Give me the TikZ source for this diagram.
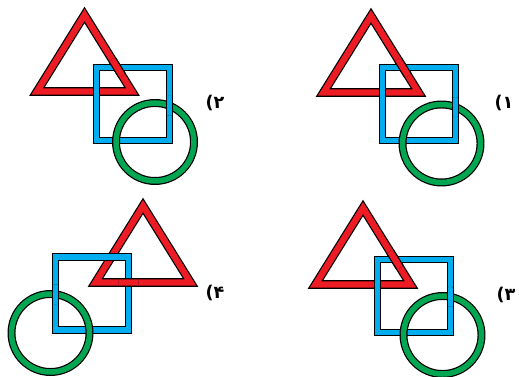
\documentclass[tikz,border=0pt]{standalone}
\usepackage{fontspec}
\newfontfamily\farsi{DejaVu Sans}
\usetikzlibrary{positioning}

\definecolor{trired}{HTML}{ED1C24}
\definecolor{sqblue}{HTML}{00AEEF}
\definecolor{ringgreen}{HTML}{00A651}

\tikzset{
  band/.style={line width=0.7pt, double distance=0.11cm, line join=miter},
  tri/.style={band, double distance=0.125cm, draw=black, double=trired},
  sq/.style={band, draw=black, double=sqblue},
  ring/.style={band, draw=black, double=ringgreen},
  lbl/.style={font=\farsi\bfseries\fontsize{10}{10}\selectfont, inner sep=0pt},
}

\begin{document}
\begin{tikzpicture}[x=0.02cm, y=-0.02cm]
  \useasboundingbox (0,0) rectangle (519,377);

  % panel 2 (top left)
  \draw[tri] (84.5,15) -- (37,91.5) -- (132,91.5) -- cycle;
  \draw[sq] (96.5,67.5) rectangle (169.5,140.5);
  \draw[ring] (155,142) circle [radius=39];
  \begin{scope} \clip (117.1,67.5) circle [radius=10];
    \draw[tri] (84.5,15) -- (37,91.5) -- (132,91.5) -- cycle; \end{scope}
  \begin{scope} \clip (169.5,105.8) circle [radius=10];
    \draw[sq] (96.5,67.5) rectangle (169.5,140.5); \end{scope}
  \node[lbl] (l2) at (215,103) {(۲};

  % panel 1 (top right)
  \draw[tri] (371,16) -- (323.5,92.5) -- (418.5,92.5) -- cycle;
  \draw[sq] (382.5,67.5) rectangle (455.5,140.5);
  \draw[ring] (441.5,143.5) circle [radius=39];
  \begin{scope} \clip (403,67.5) circle [radius=10];
    \draw[tri] (371,16) -- (323.5,92.5) -- (418.5,92.5) -- cycle; \end{scope}
  \begin{scope} \clip (455.5,107.1) circle [radius=10];
    \draw[sq] (382.5,67.5) rectangle (455.5,140.5); \end{scope}
  \node[lbl] (l1) at (504,103) {(۱};

  % panel 4 (bottom left)
  \draw[tri] (143,206) -- (95.5,282.5) -- (190.5,282.5) -- cycle;
  \draw[sq] (55.5,257) rectangle (128.5,330);
  \draw[ring] (50.5,333) circle [radius=39];
  \begin{scope} \clip (128.5,282.5) circle [radius=10];
    \draw[tri] (143,206) -- (95.5,282.5) -- (190.5,282.5) -- cycle; \end{scope}
  \begin{scope} \clip (55.5,294.3) circle [radius=10];
    \draw[sq] (55.5,257) rectangle (128.5,330); \end{scope}
  \node[lbl] (l4) at (215,293) {(۴};

  % panel 3 (bottom right)
  \draw[tri] (363,208) -- (315.5,284.5) -- (410.5,284.5) -- cycle;
  \draw[sq] (377.5,259.5) rectangle (450.5,332.5);
  \draw[ring] (442.5,335) circle [radius=39];
  \begin{scope} \clip (395,259.5) circle [radius=10];
    \draw[tri] (363,208) -- (315.5,284.5) -- (410.5,284.5) -- cycle; \end{scope}
  \begin{scope} \clip (450.5,296.8) circle [radius=10];
    \draw[sq] (377.5,259.5) rectangle (450.5,332.5); \end{scope}
  \node[lbl] (l3) at (506,295) {(۳};
\end{tikzpicture}
\end{document}
